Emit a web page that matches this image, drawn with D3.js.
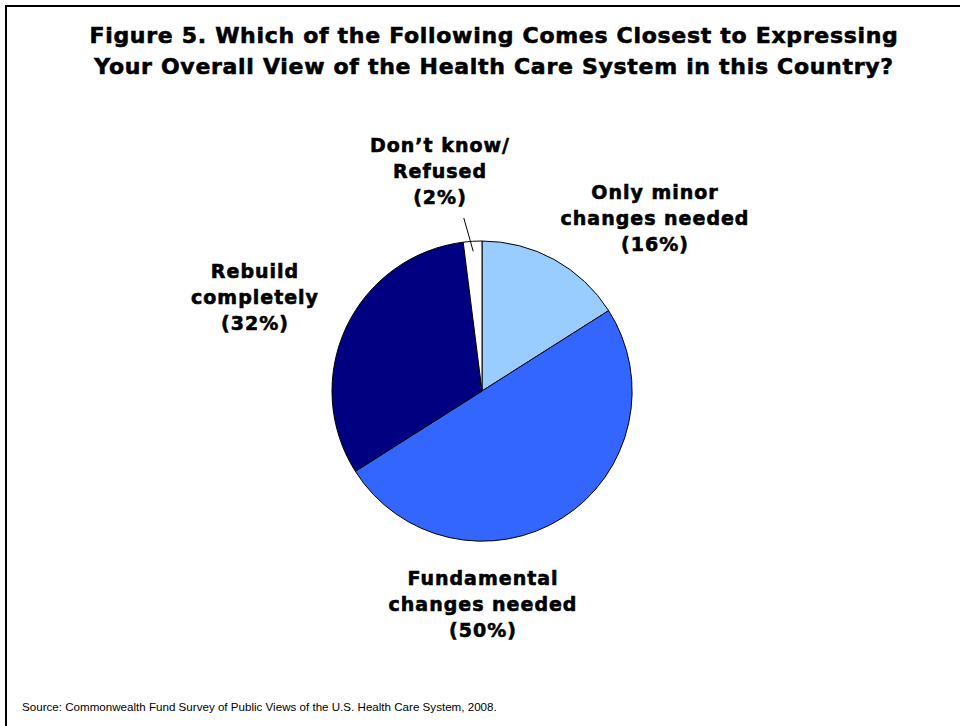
<!DOCTYPE html>
<html>
<head>
<meta charset="utf-8">
<script src="https://cdn.jsdelivr.net/npm/d3@7"></script>
<style>
  html, body { margin: 0; padding: 0; background: #fff; }
  svg { display: block; }
  .lbl { font-family: "DejaVu Sans", sans-serif; font-weight: bold; fill: #000; }
</style>
</head>
<body>
<svg id="chart"></svg>
<script>
// Chart data
const categories = ["Only minor changes needed", "Fundamental changes needed", "Rebuild completely", "Don\u2019t know/ Refused"];
const values = [16, 50, 32, 2];
const labelLines = [
  ["Only minor", "changes needed", "(16%)"],
  ["Fundamental", "changes needed", "(50%)"],
  ["Rebuild", "completely", "(32%)"],
  ["Don\u2019t know/", "Refused", "(2%)"]
];
const titleLines = [
  "Figure 5. Which of the Following Comes Closest to Expressing",
  "Your Overall View of the Health Care System in this Country?"
];
const sourceText = "Source: Commonwealth Fund Survey of Public Views of the U.S. Health Care System, 2008.";

// Layout
const W = 960, H = 726;
const cx = 482, cy = 391, radius = 150;
const sliceColors = ["#99ccff", "#3366ff", "#000080", "#ffffff"];
// label block centres (offset from pie centre), as the slides were hand placed
const labelOffsets = [[173, -192], [1, 194], [-227, -113], [-42, -239]];
const lineGap = 26;

const svg = d3.select("#chart")
  .attr("width", W)
  .attr("height", H);

svg.append("rect")
  .attr("width", W).attr("height", H)
  .attr("fill", "#fff");

// frame, running off the right and bottom edges
svg.append("rect")
  .attr("x", 6).attr("y", 6)
  .attr("width", W + 20).attr("height", H + 20)
  .attr("fill", "none")
  .attr("stroke", "#000")
  .attr("stroke-width", 2);

// title
svg.append("g")
  .selectAll("text")
  .data(titleLines)
  .join("text")
  .attr("class", "lbl")
  .attr("x", 494)
  .attr("y", (d, i) => 43 + i * 31)
  .attr("text-anchor", "middle")
  .attr("font-size", 22)
  .attr("letter-spacing", 0.7)
  .attr("stroke", "#000")
  .attr("stroke-width", 0.6)
  .text(d => d);

const color = d3.scaleOrdinal().domain(categories).range(sliceColors);

const pie = d3.pie()
  .value(d => d.value)
  .sort(null);

const arcs = pie(categories.map((c, i) => ({ name: c, value: values[i], lines: labelLines[i] })));

const arc = d3.arc().innerRadius(0).outerRadius(radius);

const g = svg.append("g")
  .attr("transform", `translate(${cx},${cy})`);

g.selectAll("path.slice")
  .data(arcs)
  .join("path")
  .attr("class", "slice")
  .attr("d", arc)
  .attr("fill", d => color(d.data.name))
  .attr("stroke", "#000")
  .attr("stroke-width", 1);

// leader line for the small slice
const polar = (a, r) => [r * Math.sin(a), -r * Math.cos(a)];
const small = arcs[3];
const mid = (small.startAngle + small.endAngle) / 2;
const p1 = polar(mid, radius - 10);
const p2 = polar(mid - 0.042, radius + 24);
g.append("line")
  .attr("x1", p1[0]).attr("y1", p1[1])
  .attr("x2", p2[0]).attr("y2", p2[1])
  .attr("stroke", "#000")
  .attr("stroke-width", 1);

// slice labels
const labels = g.selectAll("text.slice-label")
  .data(arcs)
  .join("text")
  .attr("class", "lbl slice-label")
  .attr("text-anchor", "middle")
  .attr("font-size", 19)
  .attr("letter-spacing", 1)
  .attr("stroke", "#000")
  .attr("stroke-width", 0.6)
  .attr("transform", (d, i) => `translate(${labelOffsets[i][0]},${labelOffsets[i][1]})`);

labels.selectAll("tspan")
  .data(d => d.data.lines)
  .join("tspan")
  .attr("x", 0)
  .attr("y", (d, i) => i * lineGap)
  .text(d => d);

// source
svg.append("text")
  .attr("x", 22)
  .attr("y", 711)
  .attr("font-family", "Liberation Sans, Arial, sans-serif")
  .attr("font-size", 11.6)
  .attr("fill", "#000")
  .text(sourceText);
</script>
</body>
</html>
